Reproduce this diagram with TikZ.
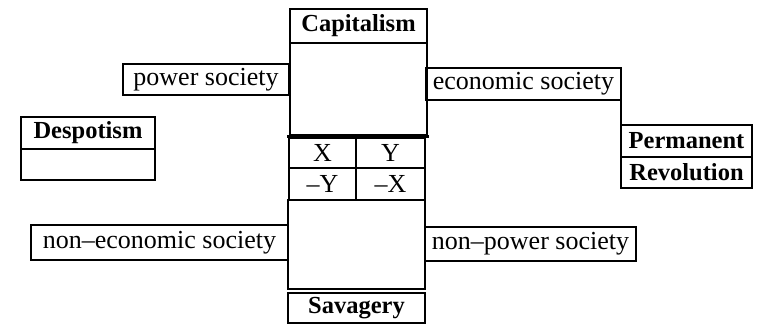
\documentclass[tikz,border=0pt]{standalone}
\usepackage{fontspec}
\setmainfont{Liberation Serif}
\begin{document}
\begin{tikzpicture}[x=1pt,y=-1pt,
  box/.style={draw=black,line width=2.3pt,inner sep=0pt,outer sep=0pt,rectangle,font=\fontsize{26}{28}\selectfont},
  tbox/.style={box,font=\fontsize{24.5}{26}\selectfont\bfseries},
  heavy/.style={draw=black,line width=3.2pt},
  link/.style={draw=black,line width=2.3pt}]
\useasboundingbox (0,0) rectangle (760,325);
% central column
\node[tbox,minimum width=137pt,minimum height=34pt] (cap) at (358.5,26) {Capitalism};
\node[box,minimum width=137pt,minimum height=92pt] (capbody) at (358.5,89) {};
\node[box,minimum width=67pt,minimum height=30pt] (gx) at (322.5,153) {X};
\node[box,minimum width=69pt,minimum height=30pt] (gy) at (390.5,153) {Y};
\node[box,minimum width=67pt,minimum height=32pt] (gmy) at (322.5,184) {\textendash Y};
\node[box,minimum width=69pt,minimum height=32pt] (gmx) at (390.5,184) {\textendash X};
\node[box,minimum width=137pt,minimum height=89pt] (savbody) at (356.5,244.5) {};
\node[tbox,minimum width=137pt,minimum height=30pt] (sav) at (356.5,308) {Savagery};
\coordinate (hl) at (287,136.5);
\coordinate (hr) at (429,136.5);
\draw[heavy] (hl) -- (hr);
% left boxes
\node[box,minimum width=166pt,minimum height=31pt] (power) at (206,79.5) {power society};
\node[tbox,minimum width=134pt,minimum height=32pt] (desp) at (88,133) {Despotism};
\node[box,minimum width=134pt,minimum height=31pt] (despbody) at (88,164.5) {};
\node[box,minimum width=257pt,minimum height=35pt] (noneco) at (159.5,242.5) {non\textendash economic society};
% right boxes
\node[box,minimum width=195pt,minimum height=32pt] (econ) at (523.5,84) {economic society};
\node[tbox,minimum width=131pt,minimum height=32pt] (perm) at (686.5,141) {Permanent};
\node[tbox,minimum width=131pt,minimum height=31pt] (rev) at (686.5,172.5) {Revolution};
\node[box,minimum width=211pt,minimum height=34pt] (nonpow) at (530.5,244) {non\textendash power society};
\draw[link] (econ.south east) -- (perm.north west);
\end{tikzpicture}
\end{document}
